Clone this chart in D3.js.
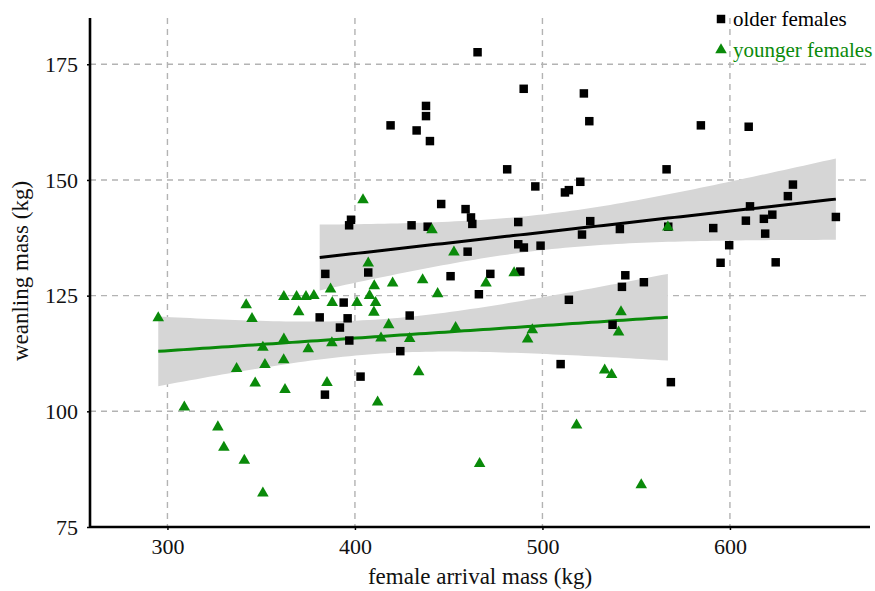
<!DOCTYPE html>
<html>
<head>
<meta charset="utf-8">
<script src="https://cdn.jsdelivr.net/npm/d3@7"></script>
<style>
  body { margin: 0; background: #fff; }
  svg { display: block; }
  text { font-family: "Liberation Serif", "DejaVu Serif", serif; }
</style>
</head>
<body>
<div id="chart"></div>
<script>
// female arrival mass (kg) / weanling mass (kg)
const olderArrival = [465.4, 490.0, 522.1, 525.0, 584.5, 610.0, 419.0, 437.9, 437.9, 432.9,
  440.0, 481.2, 566.2, 496.2, 512.0, 514.1, 520.2, 633.6, 630.9, 610.7,
  446.0, 459.0, 461.9, 462.6, 397.9, 396.9, 430.2, 438.8, 487.1, 525.5,
  521.1, 541.3, 567.1, 591.1, 608.5, 618.1, 622.6, 618.8, 656.5, 460.1,
  487.1, 490.1, 499.0, 599.6, 595.0, 624.4, 384.2, 407.1, 451.0, 472.2,
  488.2, 544.2, 542.4, 554.1, 466.1, 514.1, 394.0, 381.2, 396.1, 429.2,
  392.0, 397.0, 424.2, 537.4, 384.0, 403.0, 509.7, 568.5];
const olderWeanling = [177.6, 169.7, 168.7, 162.7, 161.8, 161.5, 161.8, 166.0, 163.8, 160.7,
  158.4, 152.3, 152.3, 148.6, 147.3, 147.8, 149.6, 149.0, 146.5, 144.3,
  144.8, 143.7, 141.9, 140.5, 141.4, 140.2, 140.2, 139.9, 140.9, 141.1,
  138.2, 139.4, 139.9, 139.6, 141.2, 141.6, 142.5, 138.4, 142.0, 134.5,
  136.1, 135.4, 135.8, 135.9, 132.1, 132.2, 129.7, 130.0, 129.2, 129.7,
  130.2, 129.4, 126.9, 127.9, 125.3, 124.1, 123.5, 120.3, 120.1, 120.7,
  118.1, 115.3, 113.0, 118.7, 103.6, 107.5, 110.2, 106.3];

const youngerArrival = [295.1, 342.0, 345.1, 362.1, 368.9, 373.9, 378.1, 387.0, 387.9, 370.0,
  362.1, 350.9, 375.1, 387.7, 336.9, 352.0, 362.0, 346.8, 362.7, 385.1,
  309.0, 326.9, 330.1, 341.0, 350.9, 404.3, 441.1, 452.8, 407.1, 410.3,
  420.1, 436.1, 444.1, 401.1, 407.8, 411.0, 410.1, 418.0, 453.7, 413.9,
  429.2, 484.9, 469.9, 494.6, 492.1, 541.9, 540.6, 566.9, 434.0, 412.1,
  533.2, 536.9, 518.2, 466.5, 552.7];
const youngerWeanling = [120.2, 123.0, 120.0, 124.8, 124.8, 124.8, 125.0, 126.4, 123.5, 121.5,
  115.6, 113.8, 113.5, 114.8, 109.2, 110.1, 111.1, 106.1, 104.7, 106.2,
  100.9, 96.6, 92.2, 89.4, 82.3, 145.7, 139.2, 134.4, 132.0, 127.1,
  127.7, 128.4, 125.4, 123.5, 125.0, 123.5, 121.4, 118.7, 118.1, 115.8,
  115.7, 129.9, 127.7, 117.6, 115.6, 121.5, 117.1, 139.8, 108.5, 102.0,
  108.9, 107.9, 97.0, 88.7, 84.1];

const xTicks = [300, 400, 500, 600];
const yTicks = [75, 100, 125, 150, 175];

const groups = [
  { name: "older females", xs: olderArrival, ys: olderWeanling, color: "#000000", line: "#000000", shape: d3.symbolSquare },
  { name: "younger females", xs: youngerArrival, ys: youngerWeanling, color: "#0a8a0a", line: "#0a8a0a", shape: d3.symbolTriangle }
];

const W = 875, H = 591;
const margin = { top: 18, right: 5, bottom: 64, left: 90 };
const width = W - margin.left - margin.right,
  height = H - margin.top - margin.bottom;

const svg = d3.select("#chart").append("svg")
  .attr("width", W).attr("height", H);
const g = svg.append("g")
  .attr("transform", `translate(${margin.left},${margin.top})`);

const x = d3.scaleLinear().domain([258.7, 674.7]).range([0, width]);
const y = d3.scaleLinear().domain([75, 185]).range([height, 0]);

// grid
g.selectAll(".vgrid").data(xTicks).enter().append("line")
  .attr("x1", d => x(d)).attr("x2", d => x(d))
  .attr("y1", 0).attr("y2", height)
  .attr("stroke", "#b3b3b3").attr("stroke-width", 1.4).attr("stroke-dasharray", "6,5");
g.selectAll(".hgrid").data(yTicks.filter(d => d > 75)).enter().append("line")
  .attr("x1", 0).attr("x2", width)
  .attr("y1", d => y(d)).attr("y2", d => y(d))
  .attr("stroke", "#b3b3b3").attr("stroke-width", 1.4).attr("stroke-dasharray", "6,5");

// linear fit with 95% confidence band
function fit(xs, ys) {
  const n = xs.length;
  const mx = d3.mean(xs), my = d3.mean(ys);
  let sxx = 0, sxy = 0;
  for (let i = 0; i < n; i++) {
    sxx += (xs[i] - mx) ** 2;
    sxy += (xs[i] - mx) * (ys[i] - my);
  }
  const b = sxy / sxx, a = my - b * mx;
  let sse = 0;
  for (let i = 0; i < n; i++) sse += (ys[i] - a - b * xs[i]) ** 2;
  const s = Math.sqrt(sse / (n - 2));
  const t = 2.0;
  const [x0, x1] = d3.extent(xs);
  return d3.range(0, 81).map(k => {
    const xv = x0 + (x1 - x0) * k / 80;
    const yv = a + b * xv;
    const se = s * Math.sqrt(1 / n + (xv - mx) ** 2 / sxx);
    return { x: xv, y: yv, lo: yv - t * se, hi: yv + t * se };
  });
}

const area = d3.area().x(d => x(d.x)).y0(d => y(d.lo)).y1(d => y(d.hi));
const line = d3.line().x(d => x(d.x)).y(d => y(d.y));

groups.forEach(gr => { gr.fit = fit(gr.xs, gr.ys); });

groups.forEach(gr => {
  g.append("path").datum(gr.fit).attr("d", area).attr("fill", "#d6d6d6");
});
groups.forEach(gr => {
  g.append("path").datum(gr.fit).attr("d", line)
    .attr("fill", "none").attr("stroke", gr.line).attr("stroke-width", 3);
});

// points
groups.forEach(gr => {
  const sym = d3.symbol().type(gr.shape).size(gr.shape === d3.symbolSquare ? 72 : 58);
  g.selectAll(null).data(gr.xs.map((v, i) => [v, gr.ys[i]])).enter().append("path")
    .attr("d", sym)
    .attr("transform", d => `translate(${x(d[0])},${y(d[1])})`)
    .attr("fill", gr.color);
});

// axes
const xAxis = g.append("g").attr("transform", `translate(0,${height})`)
  .call(d3.axisBottom(x).tickValues(xTicks).tickSize(3).tickSizeOuter(0));
const yAxis = g.append("g")
  .call(d3.axisLeft(y).tickValues(yTicks).tickSize(3).tickSizeOuter(0));
[xAxis, yAxis].forEach(ax => {
  ax.select(".domain").attr("stroke", "#000").attr("stroke-width", 2.6);
  ax.selectAll(".tick line").attr("stroke", "#000").attr("stroke-width", 1.5);
  ax.selectAll("text").attr("fill", "#111").style("font-size", "22px")
    .style("font-family", "'Liberation Serif', serif");
});
yAxis.select(".domain").attr("d", `M0,0V${height}`);
xAxis.select(".domain").attr("d", `M0,0H${width}`);
xAxis.selectAll("text").attr("dy", "0.95em");
yAxis.selectAll("text").attr("x", -12);

svg.append("text")
  .attr("x", margin.left + 390).attr("y", 584)
  .attr("text-anchor", "middle").style("font-size", "23px").attr("fill", "#111")
  .text("female arrival mass (kg)");
svg.append("text")
  .attr("transform", `translate(28,${271}) rotate(-90)`)
  .attr("text-anchor", "middle").style("font-size", "23px").attr("fill", "#111")
  .text("weanling mass (kg)");

// legend
const legend = svg.append("g");
groups.forEach((gr, i) => {
  const ly = 19 + i * 31;
  legend.append("path")
    .attr("d", d3.symbol().type(gr.shape).size(gr.shape === d3.symbolSquare ? 72 : 58))
    .attr("transform", `translate(721,${ly})`)
    .attr("fill", gr.color);
  legend.append("text")
    .attr("x", 733).attr("y", ly).attr("dy", "0.32em")
    .style("font-size", "21px").attr("fill", gr.color)
    .text(gr.name);
});
</script>
</body>
</html>
